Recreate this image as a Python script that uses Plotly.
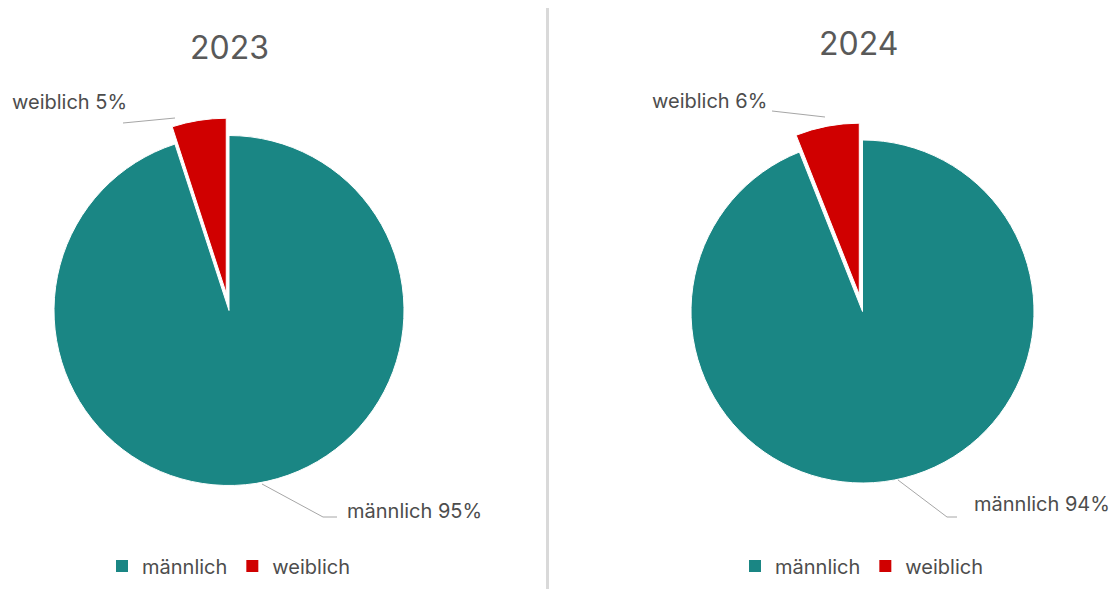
import plotly.graph_objects as go

# The page body has an 8px margin, so the figure is drawn 8px in from the
# top-left corner; the figure is sized to fill the rest of the window.
OFF = 8
W, H = 1119 - OFF, 589 - OFF

# ---- data ----
categories = ["männlich", "weiblich"]
years = ["2023", "2024"]
values_2023 = [95, 5]
values_2024 = [94, 6]
colors = ["#1A8684", "#D00000"]

FONT = "Inter"
TXT = "#4D4D4D"
LBL = 20

def px(x):
    return (x - OFF) / W

def py(y):
    return 1 - (y - OFF) / H

pull = [0, 0.1]

def domain(cx, cy, r, p):
    half = r * (1 + p)
    return dict(x=[px(cx - half), px(cx + half)], y=[py(cy + half), py(cy - half)])

fig = go.Figure()
for vals, year, geo in [(values_2023, years[0], (229, 310.5, 175)),
                        (values_2024, years[1], (862.5, 311.5, 171.5))]:
    fig.add_trace(go.Pie(
        labels=categories, values=vals, sort=False, direction="clockwise",
        rotation=0, pull=pull, textinfo="none", hoverinfo="label+percent",
        marker=dict(colors=colors, line=dict(color="white", width=1)),
        domain=domain(*geo, 0.1), showlegend=False, name=year,
    ))

# legend entries (one legend under each pie)
for leg in ["legend", "legend2"]:
    for cat, col in zip(categories, colors):
        fig.add_trace(go.Scatter(
            x=[None], y=[None], mode="markers", name=cat, legend=leg,
            marker=dict(symbol="square", size=12, color=col), hoverinfo="skip",
        ))

annotations = [
    dict(text=years[0], x=px(229), y=py(48), font=dict(size=32, color="#595959", family=FONT)),
    dict(text=years[1], x=px(858), y=py(44), font=dict(size=32, color="#595959", family=FONT)),
    dict(text=f"{categories[1]} {values_2023[1]}%", x=px(10), y=py(102), xanchor="left"),
    dict(text=f"{categories[0]} {values_2023[0]}%", x=px(345), y=py(511), xanchor="left"),
    dict(text=f"{categories[1]} {values_2024[1]}%", x=px(650), y=py(101), xanchor="left"),
    dict(text=f"{categories[0]} {values_2024[0]}%", x=px(972), y=py(504), xanchor="left"),
]
for a in annotations:
    a.setdefault("xanchor", "center")
    a.update(xref="paper", yref="paper", yanchor="middle", showarrow=False)
    a.setdefault("font", dict(size=LBL, color=TXT, family=FONT))

def path(points):
    return "M " + " L ".join(f"{px(x)},{py(y)}" for x, y in points)

line_style = dict(color="#A6A6A6", width=1)
shapes = [
    dict(type="line", xref="paper", yref="paper", x0=px(547.5), x1=px(547.5), y0=py(6), y1=py(589),
         line=dict(color="#D9D9D9", width=3)),
    dict(type="path", xref="paper", yref="paper", path=path([(123, 123), (175, 118)]), line=line_style),
    dict(type="path", xref="paper", yref="paper", path=path([(262, 484), (323, 517), (337, 517)]), line=line_style),
    dict(type="path", xref="paper", yref="paper", path=path([(772, 111), (825, 117)]), line=line_style),
    dict(type="path", xref="paper", yref="paper", path=path([(898, 480), (947, 517), (957, 517)]), line=line_style),
]

legend_common = dict(orientation="h", xanchor="center", yanchor="middle",
                     font=dict(size=LBL, color=TXT, family=FONT), itemclick=False,
                     itemdoubleclick=False, bgcolor="rgba(0,0,0,0)")

fig.update_layout(
    width=W, height=H, margin=dict(l=0, r=0, t=0, b=0),
    paper_bgcolor="white", plot_bgcolor="white",
    showlegend=True,
    xaxis=dict(visible=False), yaxis=dict(visible=False),
    legend=dict(x=px(229), y=py(566), **legend_common),
    legend2=dict(x=px(862), y=py(566), **legend_common),
    annotations=annotations, shapes=shapes,
    font=dict(family=FONT, color=TXT),
)

fig.write_html("out.html")
